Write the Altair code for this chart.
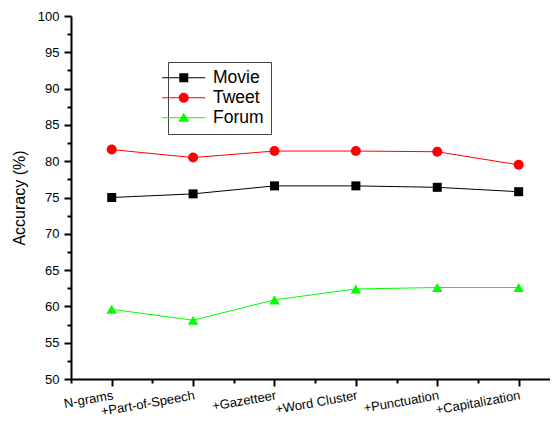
import json
import altair as alt
import pandas as pd

categories = ["N-grams", "+Part-of-Speech", "+Gazetteer", "+Word Cluster", "+Punctuation", "+Capitalization"]
series_names = ["Movie", "Tweet", "Forum"]
movie = [75.0, 75.5, 76.6, 76.6, 76.4, 75.8]
tweet = [81.6, 80.5, 81.4, 81.4, 81.3, 79.5]
forum = [59.6, 58.1, 60.9, 62.4, 62.6, 62.6]

y_major = [50, 55, 60, 65, 70, 75, 80, 85, 90, 95, 100]
y_minor = [52.5, 57.5, 62.5, 67.5, 72.5, 77.5, 82.5, 87.5, 92.5, 97.5]
x_major = [1, 2, 3, 4, 5, 6]
x_minor = [0.5, 1.5, 2.5, 3.5, 4.5, 5.5]

rows = []
for name, vals in zip(series_names, [movie, tweet, forum]):
    for i, v in enumerate(vals):
        rows.append({"series": name, "pos": i + 1, "value": v})
df = pd.DataFrame(rows)

colors = ["#000000", "#ff0000", "#00ff00"]
FONT = "Liberation Sans"

# legend symbols (fill only): a thin bar with the marker in its middle
legend_paths = [
    "M-4.3,-0.1H4.3V0.1H-4.3ZM-0.9,-0.9H0.9V0.9H-0.9Z",
    "M-4.3,-0.1H4.3V0.1H-4.3ZM-1,0A1,1 0 1,1 1,0A1,1 0 1,1 -1,0Z",
    "M-4.3,-0.1H4.3V0.1H-4.3ZM0,-1L1.1,0.8L-1.1,0.8Z",
]

xscale = alt.Scale(domain=[0.5, 6.385], nice=False, zero=False)
yscale = alt.Scale(domain=[50, 100], nice=False, zero=False)

label_expr = json.dumps(categories) + "[datum.value - 1]"

x_axis_major = alt.Axis(
    orient="bottom", values=x_major, labelExpr=label_expr, title=None,
    tickSize=7, tickWidth=2, domainWidth=2, labelAngle=350, labelAlign="right",
    labelBaseline="top", labelPadding=3, labelFontSize=13, labelFont=FONT,
    labelOverlap=False,
)
x_axis_minor = alt.Axis(
    orient="bottom", values=x_minor, labels=False, title=None, tickSize=4,
    tickWidth=2, domain=False,
)
y_axis_major = alt.Axis(
    orient="left", values=y_major, title="Accuracy (%)", tickSize=7, tickWidth=2,
    domainWidth=2, labelFontSize=13, labelFont=FONT, labelPadding=5,
    titleFontSize=16, titleFont=FONT, titleFontWeight="normal", titlePadding=10,
)
y_axis_minor = alt.Axis(
    orient="left", values=y_minor, labels=False, title=None, tickSize=4,
    tickWidth=2, domain=False,
)

line_layers = []
for i, (name, col) in enumerate(zip(series_names, colors)):
    line_layers.append(
        alt.Chart(df).transform_filter(alt.datum.series == name)
        .mark_line(strokeWidth=1, color=col)
        .encode(
            x=alt.X("pos:Q", scale=xscale, axis=x_axis_major if i == 0 else None),
            y=alt.Y("value:Q", scale=yscale, axis=y_axis_major if i == 0 else None),
        )
    )

leg = alt.Legend(
    title=None, orient="none", legendX=97, legendY=46, strokeColor="#444",
    fillColor="white", padding=7, labelFont=FONT, labelFontSize=17.5,
    labelColor="black", symbolSize=100, symbolOpacity=1, labelOffset=20.5,
    rowPadding=1,
)

# legend-only layer: no marks, the legend comes from the scale domain
legend_layer = alt.Chart(df).transform_filter("false").mark_point(filled=True, opacity=1).encode(
    x=alt.X("pos:Q", scale=xscale, axis=x_axis_minor),
    y=alt.Y("value:Q", scale=yscale, axis=y_axis_minor),
    color=alt.Color("series:N", scale=alt.Scale(domain=series_names, range=colors), legend=leg),
    shape=alt.Shape("series:N", scale=alt.Scale(domain=series_names, range=legend_paths), legend=leg),
)

marker_shapes = ["square", "circle", "triangle-up"]
marker_sizes = [81, 100, 110]
point_layers = []
for name, shp, sz, col in zip(series_names, marker_shapes, marker_sizes, colors):
    point_layers.append(
        alt.Chart(df).transform_filter(alt.datum.series == name)
        .mark_point(shape=shp, size=sz, filled=True, color=col, opacity=1)
        .encode(
            x=alt.X("pos:Q", scale=xscale, axis=None),
            y=alt.Y("value:Q", scale=yscale, axis=None),
        )
    )

chart = (
    alt.layer(*line_layers, legend_layer, *point_layers)
    .resolve_axis(x="independent", y="independent")
    .properties(
        width=479, height=363,
        autosize=alt.AutoSizeParams(type="none"),
        padding={"left": 63, "top": 8, "right": 0, "bottom": 42},
        background="white",
    )
    .configure_view(stroke=None)
    .configure_axis(grid=False, domainColor="black", tickColor="black",
                    labelColor="black", titleColor="black")
)

chart.save("out.html", embed_options={"renderer": "svg", "actions": False})
